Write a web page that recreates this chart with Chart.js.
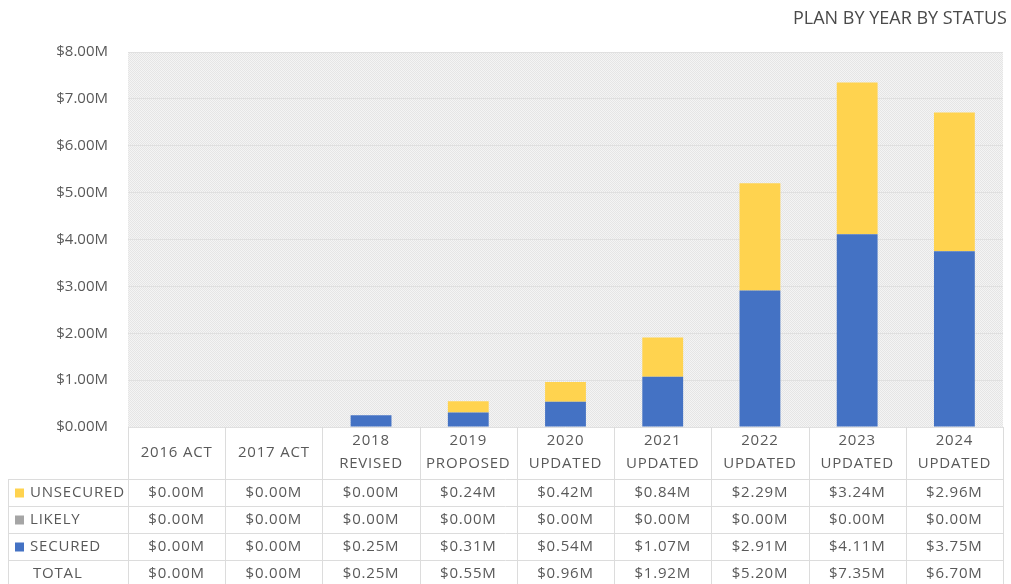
<!DOCTYPE html>
<html>
<head>
<meta charset="utf-8">
<script src="https://cdn.jsdelivr.net/npm/chart.js@4"></script>
<style>
  html, body { margin: 0; padding: 0; background: #fff; }
  #wrap { width: 1011px; height: 584px; }
</style>
</head>
<body>
<div id="wrap"><canvas id="c"></canvas></div>
<script>
// categories (multi-line headers of the data table)
const categories = [
  ['2016 ACT'], ['2017 ACT'], ['2018', 'REVISED'], ['2019', 'PROPOSED'],
  ['2020', 'UPDATED'], ['2021', 'UPDATED'], ['2022', 'UPDATED'],
  ['2023', 'UPDATED'], ['2024', 'UPDATED']
];
// values in $M
const secured   = [0, 0, 0.25, 0.31, 0.54, 1.07, 2.91, 4.11, 3.75];
const likely    = [0, 0, 0, 0, 0, 0, 0, 0, 0];
const unsecured = [0, 0, 0, 0.24, 0.42, 0.84, 2.29, 3.24, 2.96];
const totals    = [0, 0, 0.25, 0.55, 0.96, 1.92, 5.20, 7.35, 6.70];
const yTicks    = [0, 1, 2, 3, 4, 5, 6, 7, 8];

const COL = { SEC: '#4472C4', LIK: '#A5A5A5', UNS: '#FFD34F', TXT: '#595959', LINE: '#dcdcdc' };
const FONT = '"Open Sans", Lato, sans-serif';
const fmt = (v) => '$' + v.toFixed(2) + 'M';

// fine dotted hatch like the Excel plot-area fill
function makeHatch(ctx) {
  const p = document.createElement('canvas');
  p.width = 2; p.height = 2;
  const g = p.getContext('2d');
  g.fillStyle = '#f4f4f4';
  g.fillRect(0, 0, 2, 2);
  g.fillStyle = '#e5e5e5';
  g.fillRect(0, 0, 1, 1);
  g.fillRect(1, 1, 1, 1);
  return ctx.createPattern(p, 'repeat');
}

const hatchPlugin = {
  id: 'hatchBg',
  beforeDraw(chart) {
    const { ctx, chartArea: a } = chart;
    ctx.save();
    ctx.fillStyle = makeHatch(ctx);
    ctx.fillRect(a.left, a.top, a.right - a.left, a.bottom - a.top);
    ctx.restore();
  }
};

// title + data table under the plot
const tablePlugin = {
  id: 'dataTable',
  afterDraw(chart) {
    const { ctx, chartArea: a, scales: { x } } = chart;
    const n = categories.length;
    const colW = (a.right - a.left) / n;
    const headBottom = a.bottom + 52;
    const rowH = 27;
    const rows = [
      { label: 'UNSECURED', color: COL.UNS, data: unsecured },
      { label: 'LIKELY', color: COL.LIK, data: likely },
      { label: 'SECURED', color: COL.SEC, data: secured },
      { label: 'TOTAL', color: null, data: totals }
    ];
    ctx.save();

    // title (runs off the right edge like the original)
    ctx.fillStyle = '#4a4a4a';
    ctx.font = '18px ' + FONT;
    ctx.letterSpacing = '0px';
    ctx.textAlign = 'left';
    ctx.textBaseline = 'middle';
    ctx.fillText('PLAN BY YEAR BY STATUS', 793, 19);

    // grid lines
    ctx.strokeStyle = COL.LINE;
    ctx.lineWidth = 1;
    ctx.beginPath();
    for (let i = 0; i <= n; i++) {
      const xx = Math.round(a.left + i * colW) + 0.5;
      ctx.moveTo(xx, a.bottom);
      ctx.lineTo(xx, chart.height);
    }
    for (let r = 0; r < rows.length; r++) {
      const yy = Math.round(headBottom + r * rowH) + 0.5;
      ctx.moveTo(8, yy);
      ctx.lineTo(a.right, yy);
    }
    ctx.moveTo(8.5, headBottom);
    ctx.lineTo(8.5, chart.height);
    ctx.stroke();

    // header
    ctx.fillStyle = COL.TXT;
    ctx.font = '15px ' + FONT;
    ctx.letterSpacing = '0.8px';
    ctx.textAlign = 'center';
    categories.forEach((lines, i) => {
      const cx = x.getPixelForValue(i);
      if (lines.length === 1) {
        ctx.fillText(lines[0], cx, a.bottom + 26);
      } else {
        ctx.fillText(lines[0], cx, a.bottom + 14);
        ctx.fillText(lines[1], cx, a.bottom + 37);
      }
    });

    // rows
    rows.forEach((row, r) => {
      const cy = headBottom + r * rowH + rowH / 2;
      if (row.color) {
        ctx.fillStyle = row.color;
        ctx.fillRect(15, cy - 4, 9, 9);
      }
      ctx.fillStyle = COL.TXT;
      ctx.textAlign = 'left';
      ctx.fillText(row.label, row.color ? 30 : 33, cy);
      ctx.textAlign = 'center';
      row.data.forEach((v, i) => ctx.fillText(fmt(v), x.getPixelForValue(i), cy));
    });
    ctx.restore();
  }
};

const barCommon = { stack: 'plan', categoryPercentage: 1, barPercentage: 0.42, borderWidth: 0 };

new Chart(document.getElementById('c').getContext('2d'), {
  type: 'bar',
  data: {
    labels: categories,
    datasets: [
      Object.assign({ label: 'SECURED', data: secured, backgroundColor: COL.SEC }, barCommon),
      Object.assign({ label: 'LIKELY', data: likely, backgroundColor: COL.LIK }, barCommon),
      Object.assign({ label: 'UNSECURED', data: unsecured, backgroundColor: COL.UNS }, barCommon)
    ]
  },
  options: {
    responsive: true,
    maintainAspectRatio: false,
    animation: false,
    layout: { padding: { top: 52, right: 8, bottom: 157, left: 0 } },
    scales: {
      x: { stacked: true, display: false },
      y: {
        stacked: true,
        min: 0,
        max: 8,
        afterBuildTicks: (s) => { s.ticks = yTicks.map((v) => ({ value: v })); },
        afterFit: (s) => { s.width = 128; },
        border: { display: false },
        grid: { color: '#e0e0e0', drawTicks: false },
        ticks: {
          padding: 20,
          color: COL.TXT,
          font: { family: FONT, size: 15 },
          callback: (v) => fmt(v)
        }
      }
    },
    plugins: {
      legend: { display: false },
      tooltip: { enabled: false }
    }
  },
  plugins: [hatchPlugin, tablePlugin]
});
</script>
</body>
</html>
